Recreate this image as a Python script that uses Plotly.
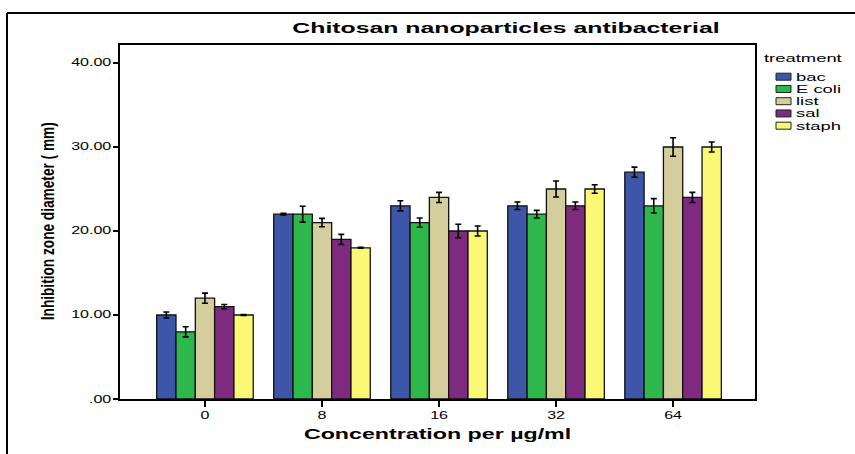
import plotly.graph_objects as go

# ---------------- data ----------------
concentrations = ['0', '8', '16', '32', '64']
treatments = ['bac', 'E coli', 'list', 'sal', 'staph']

bac = [10, 22, 23, 23, 27]
bac_err = [0.35, 0.1, 0.6, 0.45, 0.6]
ecoli = [8, 22, 21, 22, 23]
ecoli_err = [0.6, 0.95, 0.55, 0.45, 0.85]
list_vals = [12, 21, 24, 25, 30]
list_err = [0.6, 0.5, 0.6, 0.95, 1.1]
sal = [11, 19, 20, 23, 24]
sal_err = [0.25, 0.6, 0.8, 0.45, 0.6]
staph = [10, 18, 20, 25, 30]
staph_err = [0.05, 0.05, 0.6, 0.5, 0.6]

series_values = [bac, ecoli, list_vals, sal, staph]
series_errors = [bac_err, ecoli_err, list_err, sal_err, staph_err]
colors = ['#3D56A8', '#2EB84B', '#D4CE9C', '#7E2A7E', '#FBF876']

y_tickvals = [0, 10, 20, 30, 40]
y_ticktext = ['.00', '10.00', '20.00', '30.00', '40.00']

title_text = 'Chitosan nanoparticles antibacterial'
x_title = 'Concentration per \u00b5g/ml'
y_title = 'Inhibition zone diameter ( mm)'
legend_title = 'treatment'

# ---------------- layout geometry ----------------
W, H = 855, 454
L, R, T, B = 120, 100, 45, 55
PW, PH = W - L - R, H - T - B


def px_x(px):
    return (px - L) / PW


def px_y(py):
    return (H - B - py) / PH


FONT = 'Liberation Sans, Arial, sans-serif'

fig = go.Figure()
for name, vals, errs, col in zip(treatments, series_values, series_errors, colors):
    fig.add_trace(go.Bar(
        name=name, x=concentrations, y=vals,
        marker=dict(color=col, line=dict(color='#111111', width=1.3)),
        error_y=dict(type='data', array=errs, visible=True,
                     color='#000000', thickness=1.6, width=3),
        showlegend=False,
    ))

annotations = []
shapes = []

# y axis title (rotated)
annotations.append(dict(
    text=y_title, x=px_x(47), y=px_y(221), xref='paper', yref='paper',
    xanchor='center', yanchor='middle', textangle=-90, showarrow=False,
    font=dict(family=FONT, size=19, color='black', weight='bold'),
))
# x axis title
annotations.append(dict(
    text=x_title, x=px_x(437), y=px_y(434), xref='paper', yref='paper',
    xanchor='center', yanchor='middle', showarrow=False,
    font=dict(family=FONT, size=14.5, color='black', weight='bold'),
))
# legend (manual)
annotations.append(dict(
    text=legend_title, x=px_x(762), y=px_y(58), xref='paper', yref='paper',
    xanchor='left', yanchor='middle', align='left', showarrow=False,
    font=dict(family=FONT, size=11.5, color='black'),
))
leg_y0, leg_dy = 76.7, 12.25
for i, (name, col) in enumerate(zip(treatments, colors)):
    cy = leg_y0 + i * leg_dy
    shapes.append(dict(
        type='rect', xref='paper', yref='paper',
        x0=px_x(776), x1=px_x(791), y0=px_y(cy + 3.5), y1=px_y(cy - 3.5),
        fillcolor=col, line=dict(color='#222222', width=1),
    ))
    annotations.append(dict(
        text=name, x=px_x(794), y=px_y(cy), xref='paper', yref='paper',
        xanchor='left', yanchor='middle', align='left', showarrow=False,
        font=dict(family=FONT, size=11.5, color='black'),
    ))

# outer frame
shapes.append(dict(type='line', xref='paper', yref='paper',
                   x0=px_x(7), x1=px_x(860), y0=px_y(13), y1=px_y(13),
                   line=dict(color='black', width=2)))
shapes.append(dict(type='line', xref='paper', yref='paper',
                   x0=px_x(7), x1=px_x(7), y0=px_y(13), y1=px_y(460),
                   line=dict(color='black', width=2)))

fig.update_layout(
    width=W, height=H,
    margin=dict(l=L, r=R, t=T, b=B),
    paper_bgcolor='white', plot_bgcolor='white',
    barmode='group', bargap=0.175, bargroupgap=0,
    title=dict(text=title_text, x=506 / W, xanchor='center', xref='container',
               y=1 - 28 / H, yanchor='middle', yref='container',
               font=dict(family=FONT, size=15.5, color='black', weight='bold')),
    xaxis=dict(type='category', categoryorder='array', categoryarray=concentrations,
               range=[-0.726, 4.70], showgrid=False, zeroline=False,
               showline=True, linecolor='black', linewidth=1.5, mirror=True,
               ticks='outside', ticklen=6, tickwidth=1.5, tickcolor='black',
               tickfont=dict(family=FONT, size=10, color='black')),
    yaxis=dict(range=[0, 42.14], tickvals=y_tickvals, ticktext=y_ticktext,
               showgrid=False, zeroline=False,
               showline=True, linecolor='black', linewidth=1.5, mirror=True,
               ticks='outside', ticklen=5, tickwidth=1.5, tickcolor='black',
               tickfont=dict(family=FONT, size=10, color='black')),
    annotations=annotations, shapes=shapes,
    showlegend=False,
)

# The reference picture is stretched horizontally; widen horizontal glyphs and
# narrow the rotated title's glyphs (text stays real SVG text).
post_script = """
document.body.style.margin = '0';
document.body.style.overflow = 'hidden';
var gd = document.getElementById('{plot_id}');
gd.querySelectorAll('text').forEach(function(t){
  var s = t.textContent || '';
  var len = t.getComputedTextLength();
  if (!(len > 0)) return;
  var target = (s.indexOf('Inhibition') === 0) ? 198 : len * 1.6;
  t.setAttribute('textLength', target.toFixed(2));
  t.setAttribute('lengthAdjust', 'spacingAndGlyphs');
});
"""

fig.write_html('out.html', post_script=post_script, config={'displayModeBar': False})
